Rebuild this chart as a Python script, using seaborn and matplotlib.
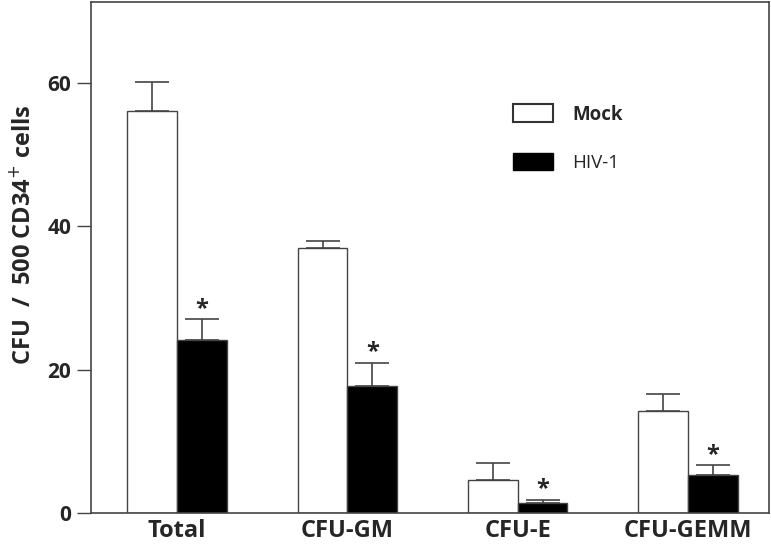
import seaborn as sns
import pandas as pd
from matplotlib import pyplot as plt
from matplotlib.patches import Patch

categories = ['Total', 'CFU-GM', 'CFU-E', 'CFU-GEMM']
groups = ['Mock', 'HIV-1']
mock = [56.0, 37.0, 4.7, 14.3]
mock_err = [4.1, 1.0, 2.3, 2.3]
hiv = [24.1, 17.8, 1.4, 5.3]
hiv_err = [2.9, 3.2, 0.5, 1.4]

sns.set_style('ticks')
plt.rcParams['font.family'] = ['Open Sans', 'DejaVu Sans']

df = pd.DataFrame({
    'cat': categories * 2,
    'group': [groups[0]] * 4 + [groups[1]] * 4,
    'val': mock + hiv,
})

fig = plt.figure(figsize=(7.71, 5.51), dpi=100)
ax = fig.add_axes([0.1176, 0.0684, 0.8798, 0.9276])

sns.barplot(data=df, x='cat', y='val', hue='group', order=categories, hue_order=groups,
            palette=['white', 'black'], edgecolor='#444444', linewidth=1.0,
            width=0.585, gap=0, errorbar=None, legend=False, ax=ax)

# upper error bars + asterisks, placed on the bar patches
bars = sorted([p for p in ax.patches if p.get_height() > 0], key=lambda p: p.get_x())
vals = []
for i in range(4):
    vals.append((mock[i], mock_err[i], False))
    vals.append((hiv[i], hiv_err[i], True))
for p, (v, e, star) in zip(bars, vals):
    xc = p.get_x() + p.get_width() / 2
    ax.errorbar(xc, v, yerr=[[0], [e]], fmt='none', ecolor='#444444',
                elinewidth=1.2, capsize=12, capthick=1.2, zorder=3)
    if star:
        ax.text(xc, v + e - 0.2, '*', ha='center', va='bottom',
                fontsize=17, fontweight='bold')

ax.set_xlim(-0.508, 3.476)
ax.set_ylim(0, 71.2)
ax.set_yticks([0, 20, 40, 60])
ax.set_xlabel('')
ax.set_ylabel('CFU  /  500 CD34$^{+}$ cells', fontsize=17, fontweight='bold')
ax.yaxis.set_label_coords(-0.08, 0.545)
ax.tick_params(axis='y', labelsize=15, length=10, width=1, color='#444444', pad=4)
ax.tick_params(axis='x', labelsize=17, length=0, pad=4)
for lab in ax.get_xticklabels() + ax.get_yticklabels():
    lab.set_fontweight('bold')
for s in ax.spines.values():
    s.set_color('#444444')
    s.set_linewidth(1.2)

handles = [Patch(facecolor='white', edgecolor='#333333', linewidth=1.5),
           Patch(facecolor='black', edgecolor='black')]
leg = ax.legend(handles, groups, loc='upper left', bbox_to_anchor=(0.622, 0.80),
                frameon=False, fontsize=13.5, handlelength=2.13, handleheight=1.07,
                labelspacing=1.5, handletextpad=1.07, borderpad=0, borderaxespad=0)
leg.get_texts()[0].set_fontweight('bold')

fig.savefig('out.png', dpi=100)
